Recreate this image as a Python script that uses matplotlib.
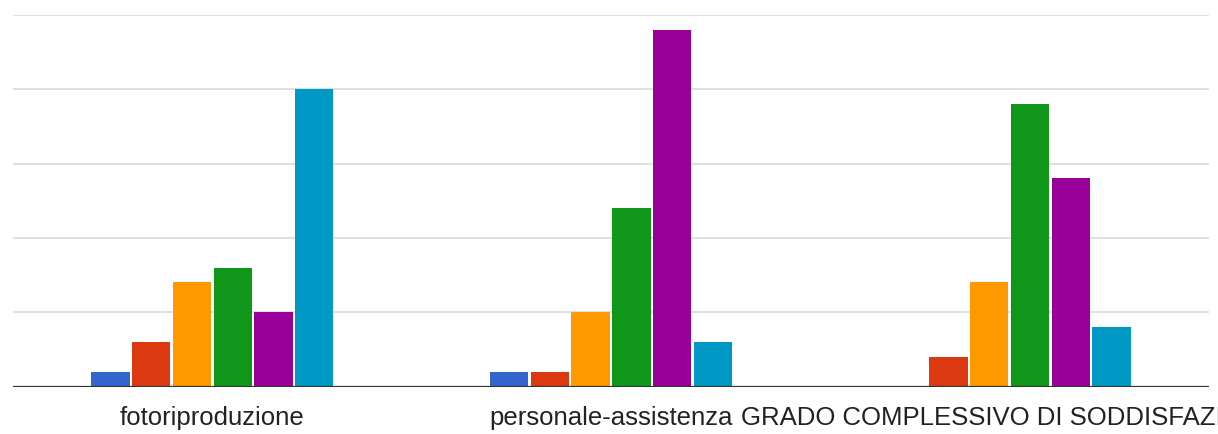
import matplotlib
matplotlib.use("Agg")
import matplotlib.pyplot as plt
import numpy as np

categories = ["fotoriproduzione", "personale-assistenza", "GRADO COMPLESSIVO DI SODDISFAZIONE"]
series_names = ["1", "2", "3", "4", "5", "6"]
series_values = [
    [1, 1, 0],
    [3, 1, 2],
    [7, 5, 7],
    [8, 12, 19],
    [5, 24, 14],
    [20, 3, 4],
]
colors = ["#3366cc", "#dc3912", "#ff9900", "#109618", "#990099", "#0099c6"]
grid_ticks = [5, 10, 15, 20, 25]

plt.rcParams['font.family'] = ['Liberation Sans', 'DejaVu Sans']

fig = plt.figure(figsize=(12.18, 4.34), dpi=100)
ax = fig.add_axes([13/1218, (434-386.5)/434, (1209-13)/1218, (386.5-15)/434])

x = np.arange(len(categories))
n = len(series_values)
pitch = 0.1023
width = 0.0963
for i, (vals, c) in enumerate(zip(series_values, colors)):
    offs = (i - (n - 1) / 2) * pitch
    ax.bar(x + offs, vals, width=width, color=c, label=series_names[i], zorder=3)

ax.set_xlim(-0.5, len(categories) - 0.5)
ax.set_ylim(0, 25)
ax.set_yticks(grid_ticks)
ax.yaxis.grid(True, color="#dddddd", linewidth=1.3, zorder=0)
ax.tick_params(axis='y', length=0, labelleft=False)
ax.axhline(0, color="#333333", linewidth=1.6, zorder=4)
for s in ax.spines.values():
    s.set_visible(False)

ax.set_xticks(x)
ax.set_xticklabels(categories, fontsize=18.5, color="#222222")
ax.tick_params(axis='x', length=0, pad=14)
for lbl in ax.get_xticklabels():
    lbl.set_clip_on(False)

fig.savefig("out.png", dpi=100)
